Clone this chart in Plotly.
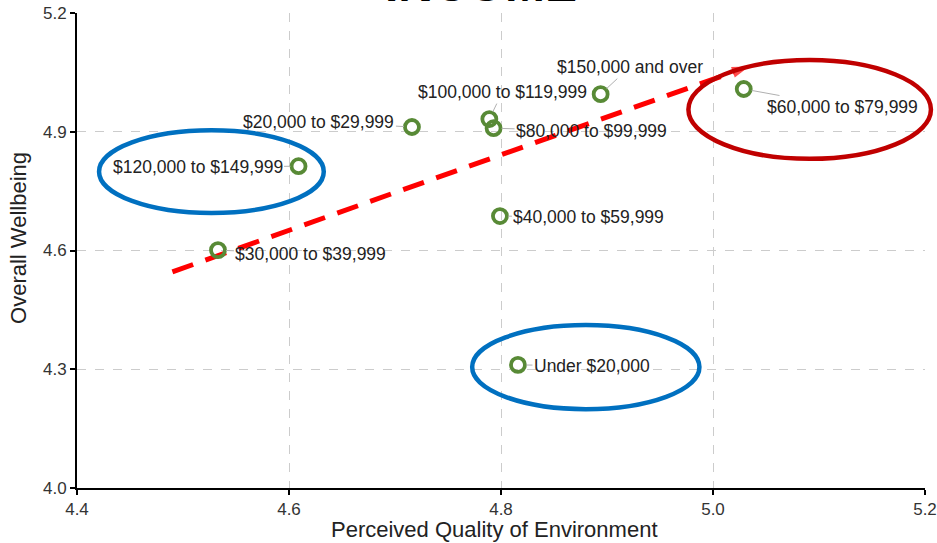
import plotly.graph_objects as go

# income groups: perceived quality of environment vs overall wellbeing
groups = ['$150,000 and over', '$60,000 to $79,999', '$100,000 to $119,999',
          '$80,000 to $99,999', '$20,000 to $29,999', '$120,000 to $149,999',
          '$30,000 to $39,999', '$40,000 to $59,999', 'Under $20,000']
environment = [4.894, 5.029, 4.789, 4.793, 4.716, 4.609, 4.533, 4.799, 4.816]
wellbeing = [4.995, 5.008, 4.932, 4.909, 4.912, 4.813, 4.601, 4.687, 4.311]

# label offsets in pixels (text centre relative to point)
label_ax = [29, 99, 13, 98, -93, -101, 93, 89, 74]
label_ay = [-27, 18, -27, 3, -5, 1, 4, 1, 1]

# trend arrow
trend_x = [4.490, 5.034]
trend_y = [4.546, 5.065]

FONT = 'Liberation Sans, Arial, sans-serif'

fig = go.Figure()

fig.add_trace(go.Scatter(
    x=trend_x, y=trend_y,
    mode='lines+markers',
    line=dict(color='#ff0000', width=5, dash='22px,13px'),
    marker=dict(symbol=['circle', 'arrow'], size=[0, 18], angleref='previous',
                color='#ff0000', line=dict(width=0)),
    hoverinfo='skip', showlegend=False,
))

fig.add_trace(go.Scatter(
    x=environment, y=wellbeing, text=groups,
    mode='markers',
    marker=dict(symbol='circle-open', size=14, color='#588a36',
                line=dict(width=3.8, color='#588a36')),
    showlegend=False,
))

for g, x, y, ax, ay in zip(groups, environment, wellbeing, label_ax, label_ay):
    fig.add_annotation(x=x, y=y, text=g, ax=ax, ay=ay,
                       showarrow=True, arrowhead=0, arrowwidth=1,
                       arrowcolor='#b0b0b0', standoff=8,
                       font=dict(family=FONT, size=17.5, color='#222222'))

# highlight ellipses
ellipses = [
    (0.026, 0.291, 0.579, 0.753, '#0070c0'),
    (0.466, 0.734, 0.166, 0.343, '#0070c0'),
    (0.721, 1.007, 0.693, 0.901, '#c00000'),
]
for x0, x1, y0, y1, c in ellipses:
    fig.add_shape(type='circle', xref='paper', yref='paper',
                  x0=x0, x1=x1, y0=y0, y1=y1,
                  line=dict(color=c, width=4.5))

# chart title sits mostly above the visible page, as in the source
fig.add_annotation(xref='paper', yref='paper', x=0.477, y=1.0,
                   xanchor='center', yanchor='bottom', showarrow=False,
                   text='<b>INCOME</b>',
                   font=dict(family=FONT, size=48, color='black'))

# axis titles
fig.add_annotation(xref='paper', yref='paper', x=0.492, y=-0.087,
                   xanchor='center', yanchor='middle', showarrow=False,
                   text='Perceived Quality of Environment',
                   font=dict(family=FONT, size=22, color='#222222'))
fig.add_annotation(xref='paper', yref='paper', x=-0.0698, y=0.526,
                   xanchor='center', yanchor='middle', textangle=-90,
                   showarrow=False, text='Overall Wellbeing',
                   font=dict(family=FONT, size=22, color='#222222'))

axis_common = dict(showgrid=True, gridcolor='#cccccc', griddash='dash',
                   gridwidth=1, showline=True, linecolor='black', linewidth=2,
                   ticks='outside', ticklen=5, tickcolor='black', tickwidth=1.5,
                   zeroline=False, automargin=False,
                   tickfont=dict(family=FONT, size=17, color='#333333'))

fig.update_xaxes(range=[4.4, 5.2], tick0=4.4, dtick=0.2, tickformat='.1f',
                 **axis_common)
fig.update_yaxes(range=[4.0, 5.2], tick0=4.0, dtick=0.3, tickformat='.1f',
                 **axis_common)

fig.update_layout(
    width=937, height=543,
    margin=dict(l=77, r=12, t=13, b=55),
    plot_bgcolor='white', paper_bgcolor='white',
    font=dict(family=FONT),
)

fig.write_html('out.html', config={'displayModeBar': False},
               post_script="document.body.style.margin='0';")
